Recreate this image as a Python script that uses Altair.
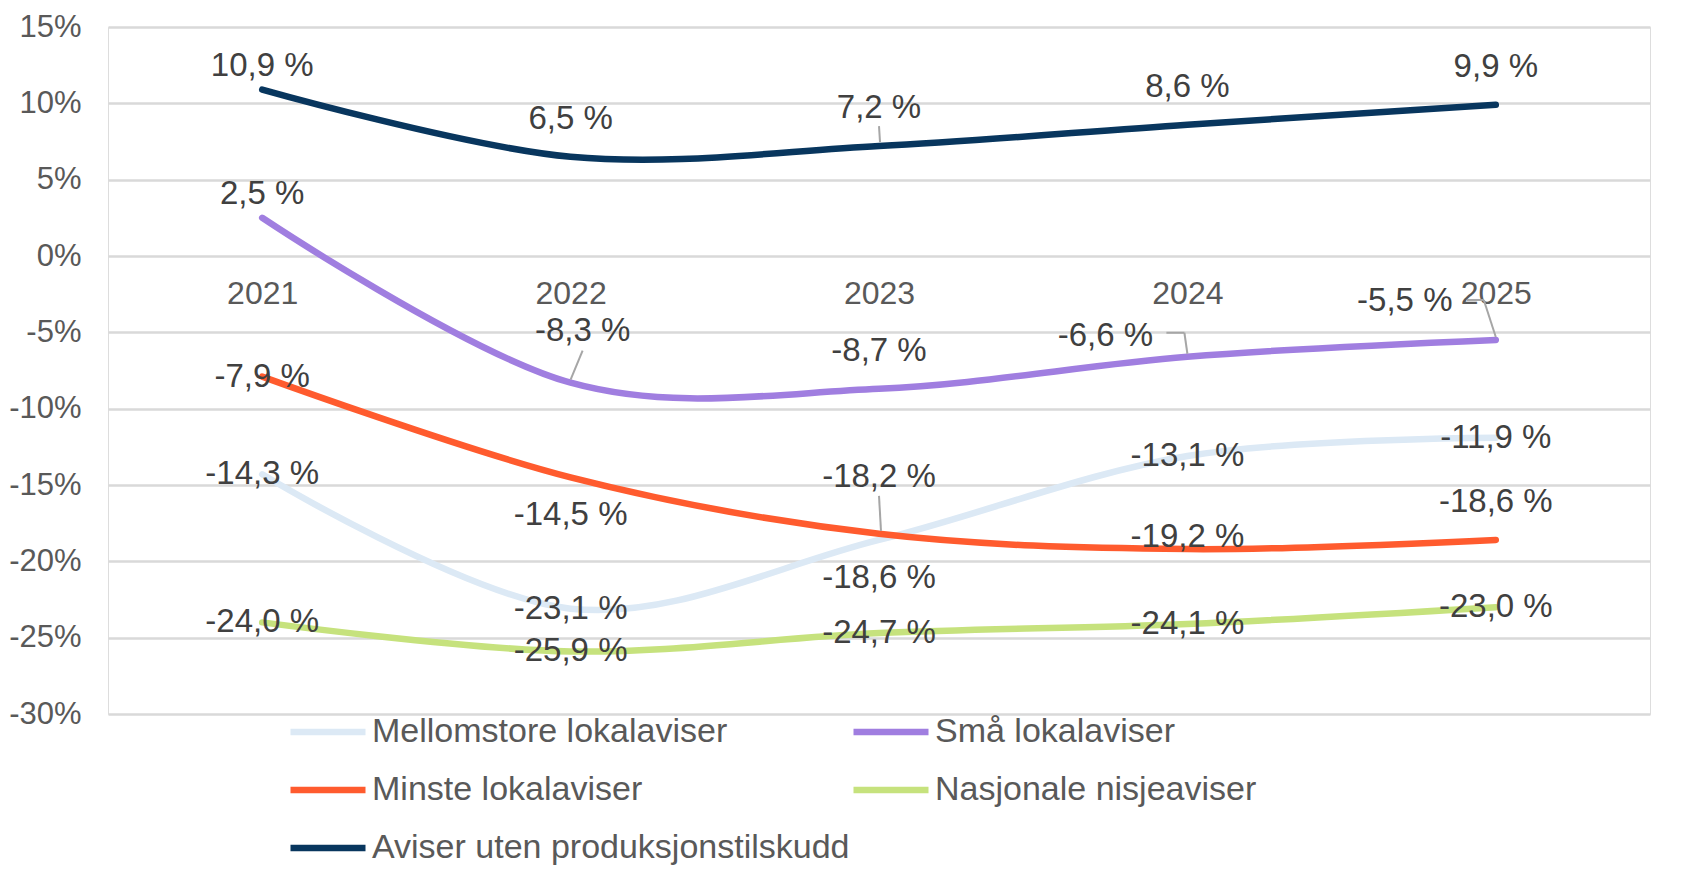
import altair as alt
import pandas as pd

years = ["2021", "2022", "2023", "2024", "2025"]
series = [
    "Mellomstore lokalaviser",
    "Små lokalaviser",
    "Minste lokalaviser",
    "Nasjonale nisjeaviser",
    "Aviser uten produksjonstilskudd",
]
mellomstore = [-14.3, -23.1, -18.6, -13.1, -11.9]
sma = [2.5, -8.3, -8.7, -6.6, -5.5]
minste = [-7.9, -14.5, -18.2, -19.2, -18.6]
nasjonale = [-24.0, -25.9, -24.7, -24.1, -23.0]
uten = [10.9, 6.5, 7.2, 8.6, 9.9]
values = [mellomstore, sma, minste, nasjonale, uten]
colors = ["#DCE9F5", "#A07EE0", "#FF5B2E", "#C6E27D", "#08365E"]
y_ticks = [-30, -25, -20, -15, -10, -5, 0, 5, 10, 15]

# legend fills column by column: this order gives the reference's row-wise reading
legend_order = [series[0], series[2], series[4], series[1], series[3]]
legend_colors = [colors[series.index(s)] for s in legend_order]

# Excel-style label placement keywords per series / point
placements = [
    ["c", "c", "b", "c", "c"],
    ["an", "afr", "a", "l", "lh"],
    ["c", "b", "af", "as", "a"],
    ["c", "c", "c", "c", "c"],
    ["an", "a", "a", "a", "a"],
]
nudges = {
    "c": (0, 0), "a": (0, -38), "an": (0, -24), "af": (0, -57),
    "afr": (12, -52), "as": (0, -12), "b": (0, 38), "l": (-82, -21), "lh": (-91, -39),
}
# leader-line keywords per series / point
leaders = [
    [None, None, None, None, None],
    [None, "ld1", None, "ld2", "ld3"],
    [None, None, "ld4", None, None],
    [None, None, None, None, None],
    [None, None, "ld5", None, None],
]
leader_segments = {
    "ld1": [(12, -32, 0, -3)],
    "ld2": [(-21, -24, -3, -24), (-3, -24, 0, -3)],
    "ld3": [(-29, -40, -12, -40), (-12, -40, 0, -3)],
    "ld4": [(0, -38, 2, -3)],
    "ld5": [(0, -20, 1, -4)],
}

rows = []
for s, vals, pl, ld in zip(series, values, placements, leaders):
    for yr, v, p, l in zip(years, vals, pl, ld):
        rows.append({"year": yr, "series": s, "value": v, "pos": p, "leader": l or ""})
df = pd.DataFrame(rows)

FONT = "Liberation Sans"
x_enc = alt.X("year:O", scale=alt.Scale(type="point", padding=0.5, domain=years),
              axis=alt.Axis(title=None, orient="bottom", offset=-459, domain=False, ticks=False,
                            grid=False, labelAngle=0, labelFontSize=32, labelColor="#595959",
                            labelFont=FONT, labelPadding=23))
y_scale = alt.Scale(domain=[-30, 15], nice=False, zero=False)
y_enc = alt.Y("value:Q", scale=y_scale,
              axis=alt.Axis(title=None, values=y_ticks, labelExpr="datum.value + '%'",
                            domain=False, ticks=False, gridColor="#D9D9D9", gridWidth=2.5,
                            labelFontSize=31, labelColor="#595959", labelFont=FONT,
                            labelPadding=27))
color_enc = alt.Color("series:N",
                      scale=alt.Scale(domain=legend_order, range=legend_colors),
                      sort=legend_order,
                      legend=alt.Legend(title=None, orient="none", legendX=179, legendY=664,
                                        columns=2, columnPadding=-12, rowPadding=-15,
                                        symbolType="stroke", symbolSize=5625,
                                        symbolStrokeWidth=6.5, labelFontSize=34,
                                        labelColor="#595959", labelFont=FONT, labelOffset=3,
                                        labelLimit=0))

base = alt.Chart(df)

lines = base.mark_line(interpolate="cardinal", strokeWidth=6.5, strokeCap="round",
                       strokeJoin="round").encode(
    x=x_enc, y=y_enc, color=color_enc, detail="series:N")

layers = [lines]

lab_expr = "replace(replace(format(datum.value, '.1f'), '.', ','), '\u2212', '-') + ' %'"
for key, (dx, dy) in nudges.items():
    t = base.transform_filter(alt.datum.pos == key).transform_calculate(
        lbl=lab_expr
    ).mark_text(font=FONT, fontSize=33, color="#404040", dx=dx, dy=dy,
                baseline="middle", align="center").encode(
        x=alt.X("year:O"), y=alt.Y("value:Q"), text="lbl:N")
    layers.append(t)

for key, segs in leader_segments.items():
    for (x1, y1, x2, y2) in segs:
        r = base.transform_filter(alt.datum.leader == key).mark_rule(
            color="#A6A6A6", strokeWidth=2,
            xOffset=x1, yOffset=y1, x2Offset=x2, y2Offset=y2).encode(
            x=alt.X("year:O"), x2=alt.X2("year"), y=alt.Y("value:Q"), y2=alt.Y2("value"))
        layers.append(r)

chart = alt.layer(*layers).properties(
    width=1542, height=687,
    autosize=alt.AutoSizeParams(type="none"),
    padding={"left": 100, "top": 19, "right": 20, "bottom": 160},
).configure_view(stroke=None).configure(font=FONT, background="white")

chart.save("out.html", embed_options={"renderer": "svg", "actions": False})
